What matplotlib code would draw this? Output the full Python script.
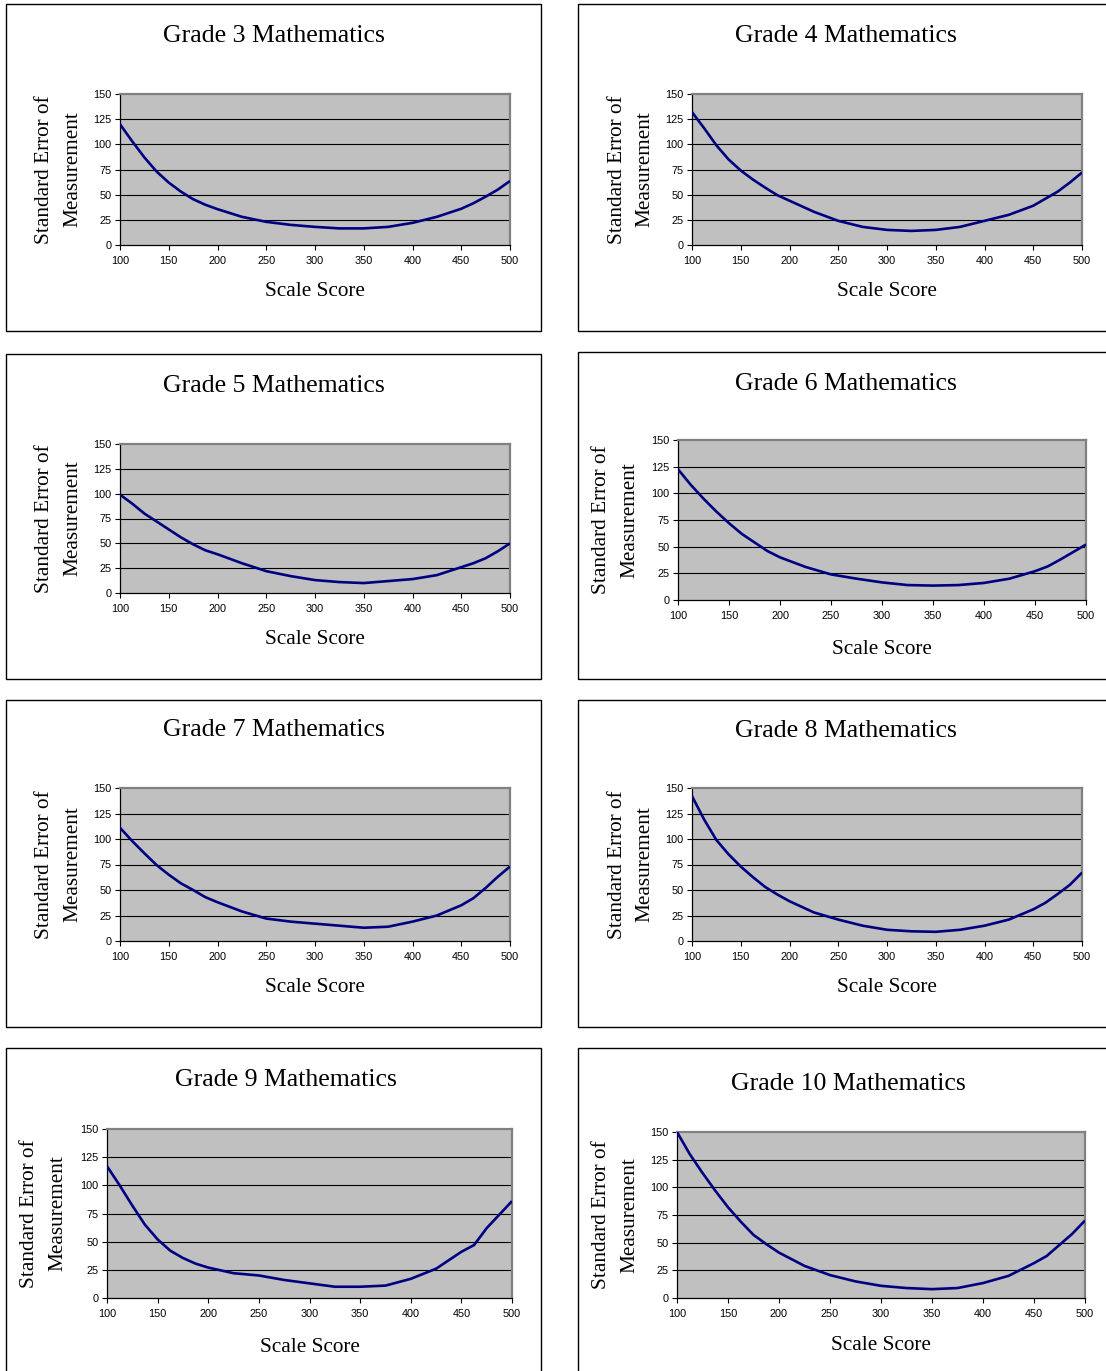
import matplotlib
matplotlib.use("Agg")
import matplotlib.pyplot as plt
from matplotlib.patches import Rectangle

# ---------------- data ----------------
scale_scores = [100, 112.5, 125, 137.5, 150, 162.5, 175, 187.5, 200, 225, 250, 275,
                300, 325, 350, 375, 400, 425, 450, 462.5, 475, 487.5, 500]

grade3 = [120, 103, 87, 73, 62, 53, 45.5, 40, 35.6, 28, 23, 20,
          18, 16.5, 16.5, 18, 22, 28, 36, 41.5, 48, 55, 63.6]
grade4 = [132, 116, 99, 85, 74, 65, 57, 49.5, 44, 33, 24, 18,
          15, 14, 15, 18, 24, 30, 39, 46, 53, 62, 72]
grade5 = [99, 90, 80, 72, 64, 56, 49, 43, 39, 30, 22, 17,
          13, 11, 10, 12, 14, 18, 26, 30, 35, 42, 50]
grade6 = [122.6, 108, 95, 83, 72, 62, 54, 46, 40, 31, 24, 20,
          16.5, 14, 13.5, 14, 16, 20, 27, 31.5, 38, 45, 52]
grade7 = [111, 98, 86, 74.5, 65, 56.5, 50, 43, 38, 29, 22, 19,
          17, 15, 13, 14, 19, 25, 35, 42, 52, 63, 73]
grade8 = [142, 119, 99, 85, 73, 62.6, 53, 45.6, 39, 28, 21, 15,
          11, 9.5, 9, 11, 15, 21, 31, 37.5, 46, 55, 67]
grade9 = [117, 100, 82, 65, 52, 42, 35.5, 30.5, 27, 22, 20, 16,
          13, 10, 10, 11, 17, 26, 41, 47, 62, 74, 86]
grade10 = [150, 130, 113, 97, 82, 69, 57, 48.7, 41, 29, 20.7, 15,
           11, 9, 8, 9, 13.5, 20, 31.5, 38, 48, 58, 70]

titles = ["Grade 3 Mathematics", "Grade 4 Mathematics", "Grade 5 Mathematics",
          "Grade 6 Mathematics", "Grade 7 Mathematics", "Grade 8 Mathematics",
          "Grade 9 Mathematics", "Grade 10 Mathematics"]
series = [grade3, grade4, grade5, grade6, grade7, grade8, grade9, grade10]

y_ticks = [0, 25, 50, 75, 100, 125, 150]
x_ticks = [100, 150, 200, 250, 300, 350, 400, 450, 500]
ylabel_lines = ["Standard Error of", "Measurement"]
xlabel_text = "Scale Score"

# ---------------- layout (pixels) ----------------
W, H = 1106, 1371
# box: left, right, top, bottom
boxes = [(6, 541, 4, 331), (578, 1112, 4, 331),
         (6, 541, 354, 679), (578, 1112, 352, 679),
         (6, 541, 700, 1027), (578, 1112, 700, 1027),
         (6, 541, 1048, 1380), (578, 1112, 1048, 1380)]
# axes: left, right, top, bottom
axes_px = [(120, 510, 94, 245), (692, 1082, 94, 245),
           (120, 510, 444, 593), (678, 1086, 440, 600),
           (120, 510, 788, 941), (692, 1082, 788, 941),
           (107, 512, 1129, 1298), (677, 1085, 1132, 1298)]
title_pos = [(274, 36), (846, 36), (274, 386), (846, 384),
             (274, 730), (846, 731), (286, 1080), (848, 1084)]
ylab_x = [(45, 73), (617, 645), (45, 73), (602, 630),
          (45, 73), (617, 645), (30, 58), (602, 630)]
xlab_pos = [(315, 292), (887, 292), (315, 640), (882, 649),
            (315, 988), (887, 988), (310, 1347), (881, 1345)]

serif = ["Liberation Serif", "DejaVu Serif"]
sans = ["Liberation Sans", "DejaVu Sans"]

fig = plt.figure(figsize=(W / 100, H / 100), dpi=100)
fig.patch.set_facecolor("white")


def fx(px):
    return px / W


def fy(py):
    return 1 - py / H


for i in range(8):
    bl, br, bt, bb = boxes[i]
    fig.add_artist(Rectangle((fx(bl), fy(bb)), fx(br) - fx(bl), fy(bt) - fy(bb),
                             transform=fig.transFigure, fill=False,
                             edgecolor="black", linewidth=1.0, zorder=0))

    al, ar, at, ab = axes_px[i]
    ax = fig.add_axes([fx(al), fy(ab), fx(ar) - fx(al), fy(at) - fy(ab)])
    ax.set_facecolor("#C0C0C0")
    ax.plot(scale_scores, series[i], color="#000080", linewidth=1.9,
            solid_joinstyle="round", solid_capstyle="butt", zorder=3)
    ax.set_xlim(100, 500)
    ax.set_ylim(0, 150)
    ax.set_yticks(y_ticks)
    ax.set_xticks(x_ticks)
    for g in y_ticks[1:-1]:
        ax.axhline(g, color="black", linewidth=0.8, zorder=1)
    ax.tick_params(axis="both", direction="out", length=3.5, width=0.8,
                   labelsize=7.8, colors="black")
    ax.tick_params(axis="x", pad=4.5)
    ax.tick_params(axis="y", pad=2.5)
    for lab in ax.get_xticklabels() + ax.get_yticklabels():
        lab.set_fontfamily(sans)
    ax.spines["left"].set_color("black")
    ax.spines["bottom"].set_color("black")
    ax.spines["left"].set_linewidth(0.9)
    ax.spines["bottom"].set_linewidth(0.9)
    ax.spines["top"].set_color("#808080")
    ax.spines["right"].set_color("#808080")
    ax.spines["top"].set_linewidth(1.6)
    ax.spines["right"].set_linewidth(1.6)

    tx, ty = title_pos[i]
    fig.text(fx(tx), fy(ty), titles[i], ha="center", va="center",
             fontsize=18.5, family=serif)

    cy = (at + ab) / 2
    for lx, line in zip(ylab_x[i], ylabel_lines):
        fig.text(fx(lx), fy(cy), line, ha="center", va="center", rotation=90,
                 fontsize=15.3, family=serif)

    xx, xy = xlab_pos[i]
    fig.text(fx(xx), fy(xy), xlabel_text, ha="center", va="center",
             fontsize=15.3, family=serif)

fig.savefig("out.png", dpi=100, facecolor="white")
